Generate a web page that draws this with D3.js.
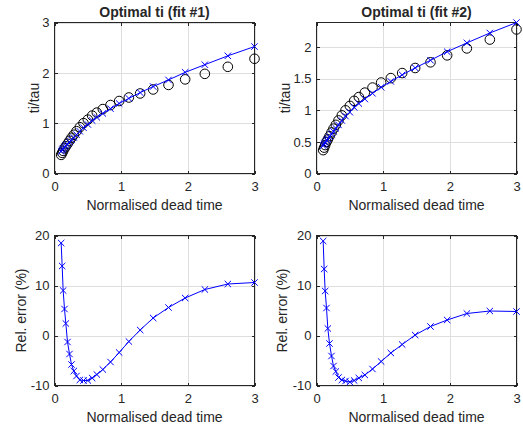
<!DOCTYPE html>
<html>
<head>
<meta charset="utf-8">
<script src="https://cdn.jsdelivr.net/npm/d3@7"></script>
<style>
  body { margin: 0; background: #fff; }
  text { font-family: "Liberation Sans", Arial, Helvetica, sans-serif; fill: #262626; }
</style>
</head>
<body>
<svg id="fig" width="523" height="429"></svg>
<script>
// values
const deadTime = [0.10, 0.115, 0.13, 0.15, 0.17, 0.195, 0.225, 0.255, 0.29, 0.33, 0.38, 0.435, 0.50,
  0.565, 0.635, 0.725, 0.84, 0.97, 1.115, 1.285, 1.48, 1.71, 1.96, 2.255, 2.6, 3.0];
const optimalTi = [0.37, 0.41, 0.45, 0.50, 0.54, 0.59, 0.65, 0.71, 0.77, 0.84, 0.92, 1.00, 1.07,
  1.15, 1.21, 1.28, 1.36, 1.44, 1.51, 1.59, 1.67, 1.76, 1.87, 1.98, 2.12, 2.28];
const fitTi1 = [0.438, 0.467, 0.491, 0.527, 0.553, 0.582, 0.626, 0.669, 0.715, 0.772, 0.838, 0.910, 0.974,
  1.052, 1.116, 1.193, 1.288, 1.391, 1.492, 1.607, 1.728, 1.859, 2.010, 2.162, 2.338, 2.522];
const fitTi2 = [0.440, 0.465, 0.490, 0.528, 0.548, 0.581, 0.623, 0.667, 0.715, 0.769, 0.838, 0.909, 0.970,
  1.047, 1.107, 1.179, 1.269, 1.365, 1.457, 1.561, 1.672, 1.792, 1.928, 2.067, 2.224, 2.389];
const relErr1 = [18.5, 13.9, 9.0, 5.3, 2.4, -1.3, -3.7, -5.8, -7.1, -8.1, -8.9, -9.0, -9.0,
  -8.5, -7.8, -6.8, -5.3, -3.4, -1.2, 1.1, 3.5, 5.6, 7.5, 9.2, 10.3, 10.6];
const relErr2 = [18.9, 13.3, 8.9, 5.5, 1.4, -1.6, -4.1, -6.1, -7.2, -8.4, -8.9, -9.1, -9.3,
  -9.0, -8.5, -7.9, -6.7, -5.2, -3.5, -1.8, 0.1, 1.8, 3.1, 4.4, 4.9, 4.8];

const xDomain = [0, 3];
const xTicks = [0, 1, 2, 3];
const tiTicks1 = [0, 1, 2, 3];
const tiTicks2 = [0, 0.5, 1, 1.5, 2];
const errTicks = [-10, 0, 10, 20];
const xLabel = "Normalised dead time";

const svg = d3.select("#fig");
const dark = "#262626";
const gridColor = "#dedede";

function panel(p) {
  const g = svg.append("g").attr("transform", `translate(${p.left},${p.top})`);
  const x = d3.scaleLinear().domain(xDomain).range([0, p.w]);
  const y = d3.scaleLinear().domain(p.yDomain).range([p.h, 0]);

  // grid
  const gx = g.append("g").attr("transform", `translate(0,${p.h})`)
    .call(d3.axisBottom(x).tickValues(xTicks).tickSize(-p.h).tickFormat(""));
  const gy = g.append("g")
    .call(d3.axisLeft(y).tickValues(p.yTicks).tickSize(-p.w).tickFormat(""));
  [gx, gy].forEach(a => {
    a.select(".domain").remove();
    a.selectAll("line").attr("stroke", gridColor).attr("shape-rendering", "crispEdges");
  });

  // axes, ticks pointing in
  const fmt = d => String(d);
  const axes = [
    g.append("g").attr("transform", `translate(0,${p.h})`)
      .call(d3.axisBottom(x).tickValues(xTicks).tickSizeInner(-3).tickSizeOuter(0).tickPadding(8).tickFormat(fmt)),
    g.append("g")
      .call(d3.axisTop(x).tickValues(xTicks).tickSizeInner(-3).tickSizeOuter(0).tickFormat("")),
    g.append("g")
      .call(d3.axisLeft(y).tickValues(p.yTicks).tickSizeInner(-3).tickSizeOuter(0).tickPadding(5).tickFormat(fmt)),
    g.append("g").attr("transform", `translate(${p.w},0)`)
      .call(d3.axisRight(y).tickValues(p.yTicks).tickSizeInner(-3).tickSizeOuter(0).tickFormat(""))
  ];
  axes.forEach(a => {
    a.select(".domain").remove();
    a.selectAll("line").attr("stroke", dark).attr("shape-rendering", "crispEdges");
    a.selectAll("text").attr("font-size", 13).attr("fill", dark)
      .style("font-family", '"Liberation Sans", Arial, sans-serif');
  });

  g.append("rect")
    .attr("width", p.w).attr("height", p.h)
    .attr("fill", "none").attr("stroke", dark).attr("stroke-width", 1)
    .attr("shape-rendering", "crispEdges");

  // data
  if (p.circles) {
    g.append("g").selectAll("circle")
      .data(d3.zip(deadTime, p.circles))
      .join("circle")
        .attr("cx", d => x(d[0]))
        .attr("cy", d => y(d[1]))
        .attr("r", 4.8)
        .attr("fill", "none")
        .attr("stroke", "#000")
        .attr("stroke-width", 1);
  }

  const pts = d3.zip(deadTime, p.line);
  g.append("path")
    .datum(pts)
    .attr("fill", "none")
    .attr("stroke", "#0000ff")
    .attr("stroke-width", 1)
    .attr("d", d3.line().x(d => x(d[0])).y(d => y(d[1])));

  g.append("g").selectAll("path")
    .data(pts)
    .join("path")
      .attr("transform", d => `translate(${x(d[0])},${y(d[1])})`)
      .attr("d", "M-3.2,-3.2L3.2,3.2M-3.2,3.2L3.2,-3.2")
      .attr("stroke", "#0000ff")
      .attr("stroke-width", 1);

  // labels
  if (p.title) {
    g.append("text")
      .attr("x", p.w / 2).attr("y", -6)
      .attr("text-anchor", "middle")
      .attr("font-size", 14).attr("font-weight", "bold")
      .attr("fill", "#000")
      .text(p.title);
  }
  g.append("text")
    .attr("x", p.w / 2).attr("y", p.h + 36.5)
    .attr("text-anchor", "middle")
    .attr("font-size", 14)
    .text(xLabel);
  g.append("text")
    .attr("transform", `translate(${-p.yLabelOff},${p.h / 2}) rotate(-90)`)
    .attr("text-anchor", "middle")
    .attr("font-size", 14)
    .text(p.yLabel);
}

panel({left: 54.5, top: 22.5, w: 200, h: 151, yDomain: [0, 3], yTicks: tiTicks1,
  circles: optimalTi, line: fitTi1, title: "Optimal ti (fit #1)", yLabel: "ti/tau", yLabelOff: 15.5});
panel({left: 316.5, top: 22.5, w: 200, h: 151, yDomain: [0, 2.39], yTicks: tiTicks2,
  circles: optimalTi, line: fitTi2, title: "Optimal ti (fit #2)", yLabel: "ti/tau", yLabelOff: 27});
panel({left: 54.5, top: 235.5, w: 200, h: 150, yDomain: [-10, 20], yTicks: errTicks,
  line: relErr1, yLabel: "Rel. error (%)", yLabelOff: 29});
panel({left: 316.5, top: 235.5, w: 200, h: 150, yDomain: [-10, 20], yTicks: errTicks,
  line: relErr2, yLabel: "Rel. error (%)", yLabelOff: 29.5});
</script>
</body>
</html>
